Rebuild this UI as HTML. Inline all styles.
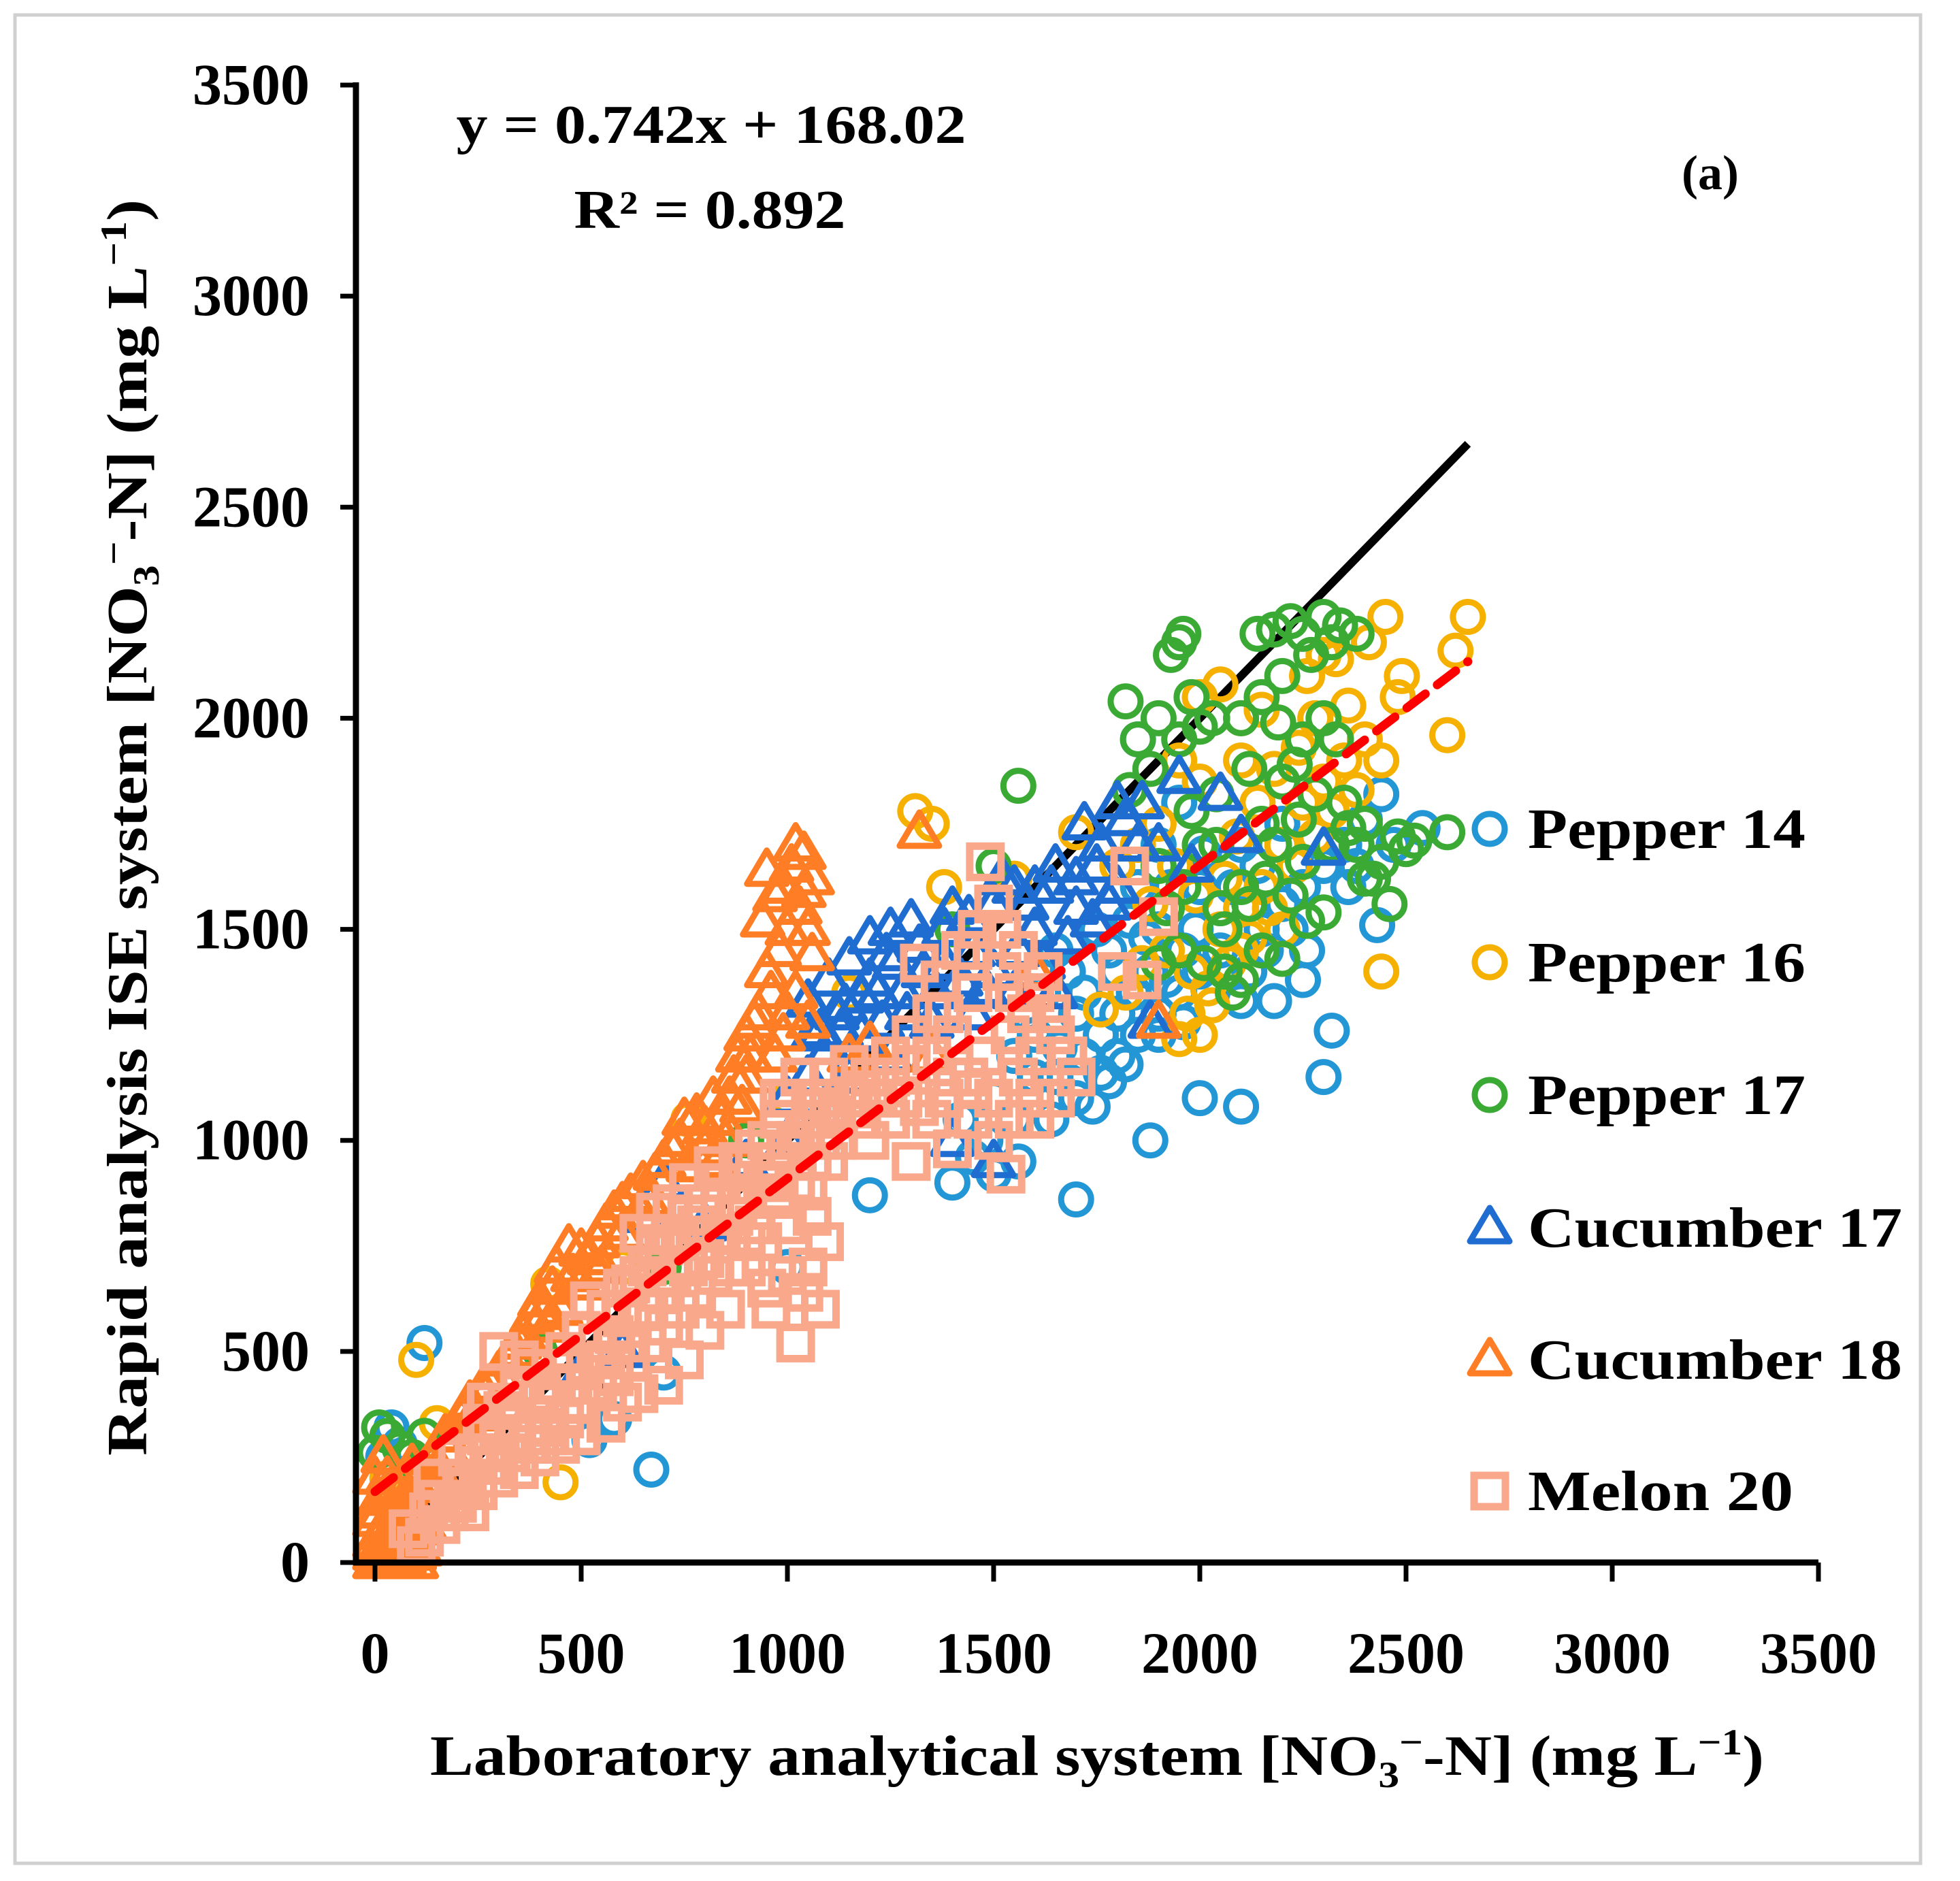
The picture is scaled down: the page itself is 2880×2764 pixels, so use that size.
<!DOCTYPE html>
<html><head><meta charset="utf-8"><style>
html,body{margin:0;padding:0;background:#fff}
svg{display:block}
text{font-family:"Liberation Serif",serif;font-weight:bold;fill:#000}
</style></head><body>
<svg id="chart" width="2880" height="2764" viewBox="0 0 2880 2764" xmlns="http://www.w3.org/2000/svg">
<rect x="22" y="22" width="2800" height="2716" fill="#fff" stroke="#d0d0d0" stroke-width="5"/>
<g id="marks"></g>
<g id="axes"></g>
<text x="1045" y="210" font-size="80" text-anchor="middle" textLength="749" lengthAdjust="spacingAndGlyphs">y = 0.742x + 168.02</text>
<text x="1043" y="335" font-size="80" text-anchor="middle" textLength="399" lengthAdjust="spacingAndGlyphs">R² = 0.892</text>
<text x="2513" y="278" font-size="72" text-anchor="middle">(a)</text>
<text x="1612" y="2608" font-size="84" text-anchor="middle" textLength="1960" lengthAdjust="spacingAndGlyphs">Laboratory analytical system [NO<tspan font-size="54" dy="18">3</tspan><tspan dy="-48" font-size="54">−</tspan><tspan dy="30">-N] (mg L</tspan><tspan font-size="54" dy="-30">−1</tspan><tspan dy="30">)</tspan></text>
<text transform="translate(215,1216) rotate(-90)" x="0" y="0" font-size="84" text-anchor="middle" textLength="1846" lengthAdjust="spacingAndGlyphs">Rapid analysis ISE system [NO<tspan font-size="54" dy="18">3</tspan><tspan dy="-48" font-size="54">−</tspan><tspan dy="30">-N] (mg L</tspan><tspan font-size="54" dy="-30">−1</tspan><tspan dy="30">)</tspan></text>
<g id="legend"></g>
</svg>
<script>
const xTicks=[0,500,1000,1500,2000,2500,3000,3500];
const yTicks=[0,500,1000,1500,2000,2500,3000,3500];
const seriesNames=["Pepper 14","Pepper 16","Pepper 17","Cucumber 17","Cucumber 18","Melon 20"];
const fitSlope=0.742, fitIntercept=168.02, lineMaxX=2650;
const pepper14=[[120,520],[670,220],[520,290],[580,340],[1700,860],[1880,1000],[2000,1100],[2100,1080],[2300,1150],[2320,1260],[2430,1510],[2440,1820],[2540,1740],[1500,920],[1560,950],[1640,1050],[1700,1100],[1760,1160],[1800,1200],[1850,1250],[1900,1300],[1950,1350],[2000,1400],[2050,1450],[2100,1330],[2180,1330],[2150,1500],[2200,1560],[2250,1600],[2300,1650],[2350,1700],[2400,1760],[1800,1400],[1750,1500],[1850,1600],[1900,1700],[1950,1800],[1850,1950],[1650,1150],[1600,1250],[1700,1300],[1780,1450],[1900,1500],[2000,1600],[2100,1700],[2200,1750],[1550,1050],[1200,870],[1000,700],[700,450],[40,320],[60,280],[20,250],[1450,960],[1400,900],[1720,1200],[1760,1250],[1800,1300],[1820,1180],[1780,1140],[1740,1080],[1840,1350],[1880,1400],[1920,1380],[1960,1450],[1870,1480],[1830,1520],[1990,1500],[2050,1550],[2080,1600],[2120,1400],[2160,1450],[2220,1500],[2260,1450],[2140,1650],[2010,1680],[1930,1600],[1680,1400],[1720,1350],[1650,1450],[1620,1350],[1580,1300],[1600,1150],[1660,1220],[1900,1250],[1960,1280],[2250,1380],[2360,1600],[2470,1700],[2380,1650],[1550,1200],[1500,1100],[1480,1000],[1420,1050]];
const pepper16=[[100,480],[450,190],[420,660],[760,1050],[1310,1780],[1350,1750],[1700,1730],[1760,1310],[1950,1240],[2000,1250],[2030,1320],[1980,1400],[2050,1500],[2100,1550],[2150,1600],[2200,1700],[2250,1800],[2300,1850],[2350,1900],[2400,1950],[2440,1900],[2440,1400],[2600,1960],[2620,2160],[2650,2240],[2490,2100],[2480,2050],[2450,2240],[2300,2150],[2330,2140],[2100,2000],[2050,2080],[2000,2050],[1950,1900],[2150,2020],[2200,1500],[2100,1450],[1850,1700],[1900,1750],[1800,1650],[2380,1830],[1550,1620],[1380,1600],[1150,1350],[1000,1100],[600,700],[150,330],[30,200],[1970,1300],[2020,1360],[2070,1420],[2120,1480],[2170,1550],[2230,1650],[2280,1720],[2320,1780],[2060,1620],[2000,1700],[1940,1650],[1880,1560],[2240,1930],[2280,2000],[2180,1880],[2140,1800],[2090,1720],[1990,1580],[2360,2030],[2260,2100],[2410,2180],[1920,1450],[1860,1420],[1820,1350],[2000,1850],[2100,1900]];
const pepper17=[[10,320],[30,300],[60,270],[90,250],[0,260],[40,200],[120,300],[1560,1840],[1820,2040],[1950,2180],[1960,2200],[2140,2200],[2180,2210],[2220,2230],[2300,2240],[2340,2220],[2380,2200],[2600,1730],[2500,1690],[2520,1710],[2460,1560],[2420,1620],[2380,1700],[2300,1540],[2250,1660],[2200,1430],[2150,1450],[2100,1380],[2080,1350],[2050,1550],[2000,1980],[2030,2000],[1980,2050],[1950,1950],[1900,2000],[1850,1950],[1830,1830],[2100,1600],[2150,1750],[2200,1850],[2250,1950],[2300,2000],[2330,1950],[2270,2150],[2200,2100],[2100,2000],[2150,2050],[1900,1650],[2000,1700],[1950,1450],[1900,1420],[2350,1800],[2400,1750],[1500,1650],[1400,1500],[900,1000],[700,700],[400,500],[1980,1780],[2040,1820],[2120,1880],[2180,1700],[2240,1760],[2280,1820],[2320,1700],[2360,1740],[2440,1660],[2480,1720],[2040,1700],[1960,1600],[1920,1550],[2060,1500],[2120,1560],[2160,1620],[2220,1580],[2260,1520],[2010,1420],[2060,1400],[1880,1880],[1930,2150],[2250,2200],[2320,2180],[2190,1990],[2230,1890],[2400,1620]];
const cucumber17=[[1720,1750],[1800,1800],[1950,1860],[2050,1820],[2300,1690],[1900,1700],[1980,1650],[2100,1720],[1880,1280],[1600,1600],[1650,1650],[1550,1600],[1500,1560],[1400,1550],[1300,1520],[1250,1500],[1200,1480],[1150,1430],[1100,1380],[1050,1330],[1120,1300],[1180,1250],[1230,1280],[1280,1350],[1330,1400],[1380,1420],[1450,1450],[1500,1400],[1600,1500],[1700,1550],[1750,1650],[1800,1600],[1850,1700],[1650,1350],[1550,1350],[1450,1300],[1350,1280],[1250,1200],[1150,1150],[1050,1150],[1000,1100],[700,900],[650,820],[800,800],[900,950],[1000,1000],[1400,1000],[1500,950],[600,500],[500,450],[1080,1260],[1140,1320],[1200,1380],[1260,1420],[1320,1460],[1380,1500],[1440,1530],[1520,1620],[1580,1560],[1640,1600],[1700,1620],[1760,1700],[1820,1760],[1860,1800],[1100,1220],[1160,1200],[1220,1350],[1290,1300],[1360,1350],[1420,1380],[1480,1360],[1560,1450],[1620,1420],[1680,1480],[1740,1520],[1780,1560],[1060,1250],[1180,1340],[1240,1440],[1130,1260]];
const cucumber18=[[0,0],[20,40],[40,80],[60,20],[80,60],[100,100],[10,150],[30,200],[50,120],[70,180],[90,230],[0,100],[20,250],[110,30],[120,150],[150,220],[180,260],[200,300],[230,380],[260,410],[300,450],[340,500],[380,580],[400,620],[430,650],[470,750],[500,740],[560,800],[600,850],[650,900],[700,950],[750,1050],[800,1030],[820,1100],[860,1100],[880,1200],[900,1250],[930,1300],[960,1350],[950,1400],[980,1450],[940,1520],[970,1580],[950,1640],[1010,1650],[1020,1700],[1040,1680],[1060,1620],[1040,1590],[1060,1440],[1000,1300],[1050,1280],[900,1150],[850,1000],[700,950],[550,700],[450,600],[350,520],[1320,1730],[1900,1280],[1600,1400],[1350,1200],[1200,1230],[1150,1200],[0,50],[40,0],[60,130],[80,200],[30,100],[100,50],[10,30],[50,60],[70,10],[90,130],[0,200],[120,220],[140,250],[170,300],[210,340],[240,350],[280,420],[320,480],[360,540],[410,590],[440,700],[480,680],[520,720],[540,760],[580,830],[620,870],[680,920],[720,980],[740,1000],[780,1060],[840,1050],[870,1150],[890,1080],[910,1200],[920,1280],[970,1200],[990,1250],[1020,1350],[1000,1500],[990,1600],[1030,1550],[1050,1500],[760,940],[800,980],[830,950],[660,860],[600,780],[500,660],[420,560],[380,500],[0,20],[15,70],[35,40],[55,90],[75,110],[95,20],[5,120],[25,160],[45,170],[65,60],[85,150],[105,80],[15,10],[60,0],[100,0],[120,90],[130,180]];
const melon20=[[80,80],[100,40],[130,120],[160,90],[190,150],[220,180],[250,230],[280,260],[140,200],[200,250],[260,330],[300,300],[320,380],[350,420],[380,460],[400,400],[420,350],[300,500],[350,480],[460,500],[500,550],[520,620],[560,600],[600,580],[620,660],[660,700],[700,750],[740,760],[780,800],[800,850],[840,900],[880,950],[920,980],[950,1000],[980,1050],[1000,1100],[1030,1150],[1060,1100],[1100,1150],[1150,1180],[1200,1150],[1250,1200],[1300,1180],[1350,1200],[1400,1150],[1450,1120],[1500,1100],[1560,1150],[1600,1200],[1650,1250],[1700,1150],[1500,1000],[1400,980],[1300,950],[1530,920],[1200,1000],[1100,950],[1050,880],[1000,800],[1050,700],[1080,600],[1020,520],[950,650],[900,700],[850,600],[800,550],[750,480],[700,420],[640,400],[600,380],[560,330],[500,300],[450,280],[400,250],[350,220],[300,200],[250,170],[200,140],[820,940],[880,940],[760,900],[720,850],[680,830],[640,780],[1320,1420],[1370,1380],[1380,1300],[1420,1450],[1460,1500],[1500,1560],[1520,1500],[1480,1660],[1560,1450],[1600,1350],[1640,1300],[1800,1400],[1830,1650],[1900,1530],[1860,1380],[1120,1060],[1180,1050],[1250,1050],[1350,1050],[1450,1050],[920,800],[960,900],[880,850],[1060,950],[560,480],[480,420],[420,380],[1600,1050],[1650,1100],[120,60],[150,150],[180,120],[210,200],[240,260],[270,300],[230,120],[290,230],[330,260],[370,300],[410,320],[440,420],[470,460],[510,470],[540,520],[580,540],[610,520],[650,600],[690,640],[720,680],[760,700],[800,720],[840,780],[870,820],[900,860],[940,900],[970,950],[1000,980],[1040,1020],[1080,1050],[1020,900],[980,860],[940,760],[900,760],[860,700],[820,680],[780,640],[740,600],[700,560],[660,520],[620,480],[580,440],[540,420],[500,380],[460,340],[420,300],[380,280],[340,330],[310,360],[270,380],[600,650],[640,680],[680,740],[720,780],[760,820],[1080,1000],[1120,1000],[1160,1100],[1220,1100],[1280,1100],[1320,1080],[1380,1100],[1440,1150],[1480,1200],[1540,1250],[1580,1300],[1620,1400],[1550,1350],[1450,1350],[1400,1250],[1350,1300],[1300,1250],[1250,1150],[1180,1120],[1100,1080],[1550,1050],[1600,1100],[1680,1200],[1450,1450],[1520,1400],[1060,820],[1000,680],[960,600],[1040,640],[1090,760],[1060,1050],[1020,1000],[980,1100],[1100,1100]];
const allSeries=[pepper14,pepper16,pepper17,cucumber17,cucumber18,melon20];
const colors=["#2397d6","#f5b000","#3aaa35","#1f6dd1","#ff7d25","#f9a88b"];
const shapes=["circle","circle","circle","tri","tri","sq"];
const X0=551,X1=2672,Y0=2296,Y1=125,XMAX=3500,YMAX=3500;
function sx(v){return X0+(X1-X0)*v/XMAX;}
function sy(v){return Y0-(Y0-Y1)*v/YMAX;}
const NS="http://www.w3.org/2000/svg";
function mk(tag,attrs,parent){const e=document.createElementNS(NS,tag);for(const k in attrs)e.setAttribute(k,attrs[k]);parent.appendChild(e);return e;}
function marker(shape,cx,cy,color,parent){
 let e;
 if(shape==="circle"){e=mk("circle",{cx:cx,cy:cy,r:22,fill:"none",stroke:color,"stroke-width":9},parent);}
 else if(shape==="tri"){e=mk("polygon",{points:(cx)+","+(cy-29)+" "+(cx+29)+","+(cy+20)+" "+(cx-29)+","+(cy+20),fill:"none",stroke:color,"stroke-width":9,"stroke-linejoin":"round"},parent);}
 else{e=mk("rect",{x:cx-23,y:cy-23,width:46,height:46,fill:"none",stroke:color,"stroke-width":11},parent);}
 return e;
}
const marks=document.getElementById("marks");
const one=mk("line",{x1:sx(0),y1:sy(0),x2:sx(lineMaxX),y2:sy(lineMaxX),stroke:"#000","stroke-width":12},marks);


allSeries.forEach((s,i)=>{
 const g=mk("g",{},marks);
 
 
 s.forEach(p=>{
  const m=marker(shapes[i],sx(p[0]),sy(p[1]),colors[i],g);
  
  
 });
});
const fit=mk("line",{x1:sx(0),y1:sy(fitIntercept),x2:sx(lineMaxX),y2:sy(fitSlope*lineMaxX+fitIntercept),stroke:"#ff0000","stroke-width":13,"stroke-dasharray":"34,22","stroke-linecap":"round"},marks);


const axes=document.getElementById("axes");
const ya=mk("line",{x1:523,y1:Y1-4,x2:523,y2:Y0+4,stroke:"#000","stroke-width":9},axes);


const xa=mk("line",{x1:519,y1:Y0,x2:X1,y2:Y0,stroke:"#000","stroke-width":9},axes);


xTicks.forEach(v=>{
 const t=mk("line",{x1:sx(v),y1:Y0,x2:sx(v),y2:Y0+28,stroke:"#000","stroke-width":7},axes);
 
 
 const l=mk("text",{x:sx(v),y:2458,"font-size":86,"text-anchor":"middle"},axes);
 l.textContent=v;
 
 
});
yTicks.forEach(v=>{
 const t=mk("line",{x1:500,y1:sy(v),x2:523,y2:sy(v),stroke:"#000","stroke-width":7},axes);
 
 
 const l=mk("text",{x:455,y:sy(v)+28,"font-size":86,"text-anchor":"end"},axes);
 l.textContent=v;
 
 
});
const leg=document.getElementById("legend");
const legY=[1218,1414,1609,1804,1998,2191];
const legW=[408,408,408,550,550,390];
seriesNames.forEach((n,i)=>{
 const g=mk("g",{},leg);
 
 
 marker(shapes[i],2189,legY[i],colors[i],g);
 const t=mk("text",{x:2245,y:legY[i]+28,"font-size":84,textLength:legW[i],lengthAdjust:"spacingAndGlyphs"},g);
 t.textContent=n;
});
</script>
</body></html>
